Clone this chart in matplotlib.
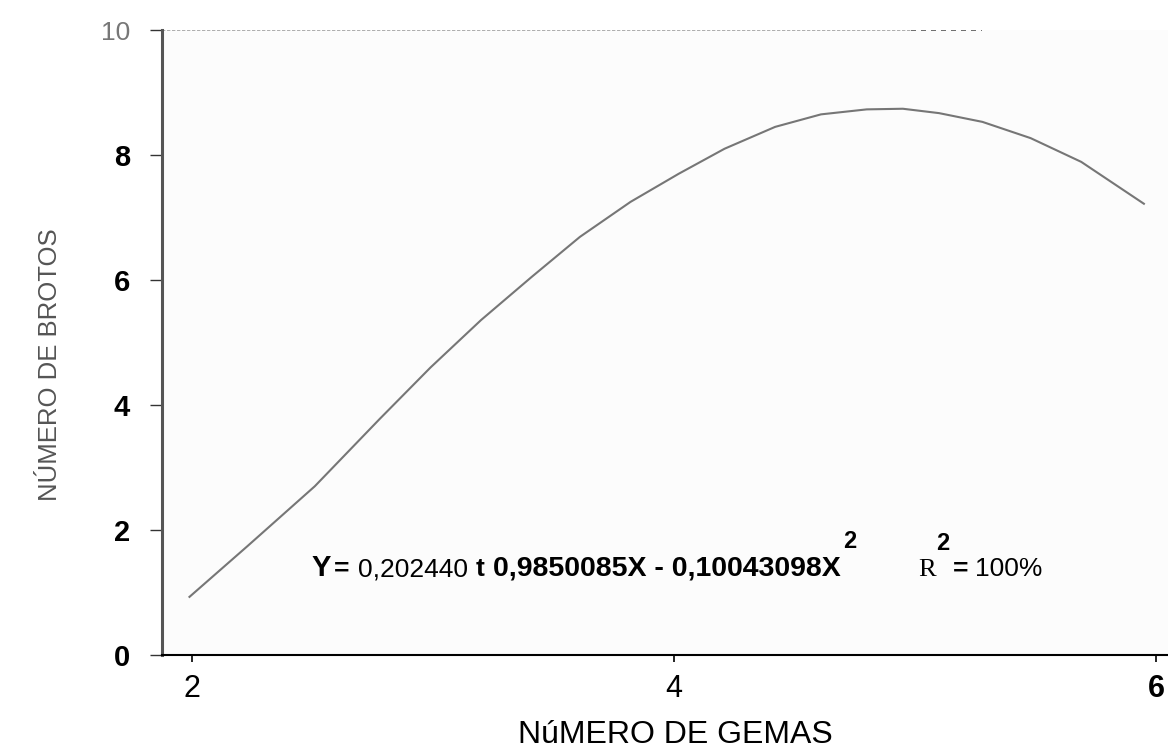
import numpy as np
import matplotlib.pyplot as plt

# curve
gemas = [1.99, 2.23, 2.51, 2.78, 2.99, 3.20, 3.41, 3.61, 3.82, 4.02,
         4.21, 4.42, 4.61, 4.80, 4.95, 5.10, 5.28, 5.48, 5.69, 5.95]
brotos = [0.93, 1.74, 2.70, 3.78, 4.60, 5.36, 6.05, 6.69, 7.25, 7.70,
          8.10, 8.45, 8.65, 8.73, 8.74, 8.67, 8.53, 8.27, 7.89, 7.22]

y_ticks = [0, 2, 4, 6, 8, 10]
x_ticks = [2, 4, 6]

sans = ['Liberation Sans', 'DejaVu Sans']
W, H = 1168, 749


def fx(px):
    return px / W


def fy(py):
    return 1 - py / H


fig = plt.figure(figsize=(11.68, 7.49), dpi=100)

ax = fig.add_axes([fx(162), fy(655), 1 - fx(162), fy(30) - fy(655)])
ax.set_facecolor('#fcfcfc')

ax.plot(gemas, brotos, color='#767676', lw=1.5)

ax.set_xlim(1.876, 6.05)
ax.set_ylim(0, 10)

ax.spines['right'].set_visible(False)
ax.spines['top'].set_visible(False)
ax.spines['left'].set_color('#555555')
ax.spines['left'].set_linewidth(2.2)
ax.spines['bottom'].set_color('black')
ax.spines['bottom'].set_linewidth(1.5)

# faint frame line at the top
ax.axhline(10, xmin=0, xmax=0.745, color='#a0a0a0', lw=1.2, ls=(0, (2, 1)))
ax.axhline(10, xmin=0.745, xmax=0.815, color='#555555', lw=1.2, ls=(0, (3, 3)))

ax.set_yticks(y_ticks)
ax.set_yticklabels([str(v) for v in y_ticks], family=sans, fontsize=21,
                   fontweight='bold')
ax.get_yticklabels()[-1].set_color('#777777')
ax.get_yticklabels()[-1].set_fontweight('normal')
ax.get_yticklabels()[-1].set_fontsize(19)
ax.tick_params(axis='y', length=9, width=1, pad=14, color='#333333')

ax.set_xticks(x_ticks)
ax.set_xticklabels([str(v) for v in x_ticks], family=sans, fontsize=22)
ax.get_xticklabels()[-1].set_fontweight('bold')
ax.tick_params(axis='x', length=5, width=1.2, pad=9)

fig.text(fx(50), fy(365), 'NÚMERO DE BROTOS', family=sans, fontsize=18.5,
         color='#555555', rotation=90, ha='center', va='center')
fig.text(fx(675), fy(735), 'NúMERO DE GEMAS', family=sans, fontsize=23,
         ha='center', va='center')

base = fy(576)
eq = dict(family=sans, fontsize=19, va='baseline')
fig.text(fx(312), base, 'Y', fontweight='bold', fontsize=21, family=sans,
         va='baseline')
fig.text(fx(334), base, '=', fontweight='bold', **eq)
fig.text(fx(358), base, '0,202440', **eq)
fig.text(fx(476), base, 't', fontweight='bold', **eq)
fig.text(fx(493), base, '0,9850085X - 0,10043098X', fontweight='bold',
         family=sans, fontsize=20.5, va='baseline')
fig.text(fx(843), fy(548), '2', family=sans, fontsize=17, fontweight='bold',
         va='baseline')
fig.text(fx(918), base, 'R', family=['Liberation Serif', 'DejaVu Serif'],
         fontsize=19, va='baseline')
fig.text(fx(936), fy(550), '2', family=sans, fontsize=17, fontweight='bold',
         va='baseline')
fig.text(fx(953), base, '=', fontweight='bold', **eq)
fig.text(fx(975), base, '100%', **eq)

fig.savefig('out.png', dpi=100)
